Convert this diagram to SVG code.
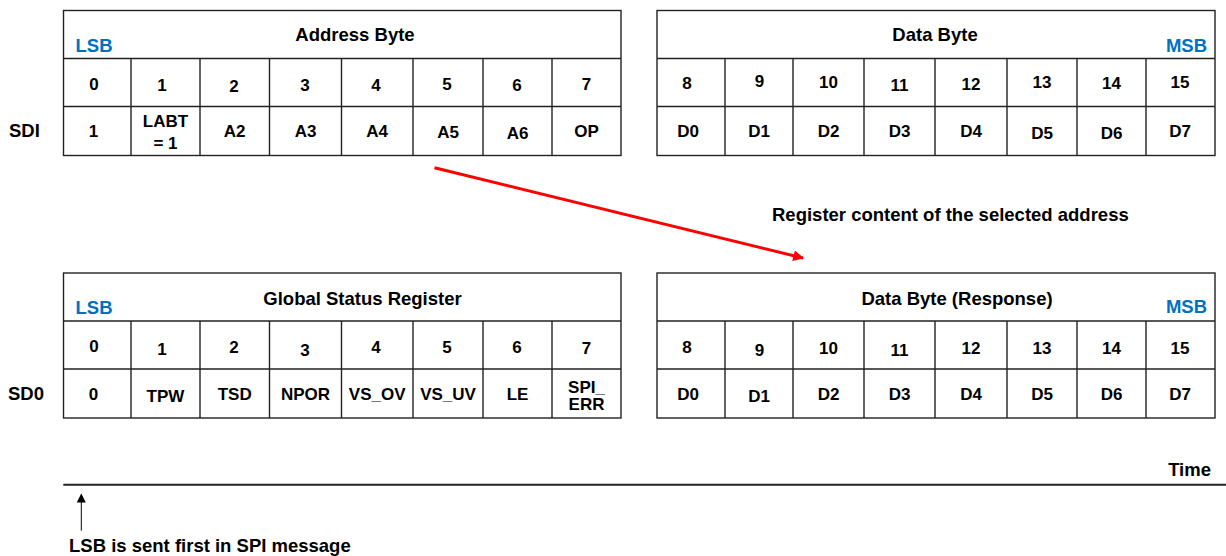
<svg xmlns="http://www.w3.org/2000/svg" width="1226" height="556" viewBox="0 0 1226 556">
<defs>
<style>
text{font-family:"Liberation Sans",Arial,sans-serif;font-weight:bold;fill:#000}
.c{font-size:17px;text-anchor:middle}
.h{font-size:18.5px;text-anchor:middle}
.lbl{font-size:18.5px}
.blue{fill:#0070C0;font-size:18.5px}
.tb{fill:none;stroke:#222;stroke-width:1.4}
</style>
<marker id="ra" viewBox="0 0 10 10" refX="9" refY="5" markerWidth="4.5" markerHeight="3.6" orient="auto" markerUnits="strokeWidth"><path d="M0,0 L10,5 L0,10 z" fill="#FF0000"/></marker>
<marker id="ka" viewBox="0 0 10 10" refX="9" refY="5" markerWidth="10" markerHeight="9" orient="auto" markerUnits="strokeWidth"><path d="M0,0 L10,5 L0,10 z" fill="#000"/></marker>
</defs>
<rect width="1226" height="556" fill="#fff"/>

<g id="label-sdi"><text class="lbl" x="9" y="137.3">SDI</text></g>
<g id="label-sd0"><text class="lbl" x="8" y="400">SD0</text></g>

<g id="address-byte">
<rect class="tb" x="63.5" y="10.5" width="557.5" height="145"/>
<path class="tb" d="M63.5 58.5H621M63.5 106.5H621M131 58.5V155.5M200 58.5V155.5M269.5 58.5V155.5M341.5 58.5V155.5M413 58.5V155.5M483 58.5V155.5M552 58.5V155.5"/>
<text class="h" x="355" y="41">Address Byte</text>
<text class="blue" x="75.5" y="51.7">LSB</text>
<text class="c" x="94" y="89.5">0</text>
<text class="c" x="162" y="90.7">1</text>
<text class="c" x="234" y="91.7">2</text>
<text class="c" x="305" y="90.7">3</text>
<text class="c" x="376" y="90.5">4</text>
<text class="c" x="447" y="90">5</text>
<text class="c" x="517" y="90.5">6</text>
<text class="c" x="586.5" y="90">7</text>
<text class="c" x="93.5" y="137.3">1</text>
<text class="c" x="165.5" y="126.7">LABT</text>
<text class="c" x="165.5" y="149">= 1</text>
<text class="c" x="234.7" y="137.3">A2</text>
<text class="c" x="305.5" y="137.3">A3</text>
<text class="c" x="377.2" y="137.3">A4</text>
<text class="c" x="448" y="138.3">A5</text>
<text class="c" x="517.5" y="139.3">A6</text>
<text class="c" x="586.5" y="136.7">OP</text>
</g>

<g id="data-byte">
<rect class="tb" x="657" y="10.5" width="558" height="145"/>
<path class="tb" d="M657 58.5H1215M657 106.5H1215M725 58.5V155.5M793 58.5V155.5M864 58.5V155.5M935 58.5V155.5M1007 58.5V155.5M1077 58.5V155.5M1146 58.5V155.5"/>
<text class="h" x="935" y="41">Data Byte</text>
<text class="blue" x="1207" y="51.7" text-anchor="end">MSB</text>
<text class="c" x="687" y="89.3">8</text>
<text class="c" x="759.5" y="86.7">9</text>
<text class="c" x="828.5" y="88.3">10</text>
<text class="c" x="899.5" y="90.7">11</text>
<text class="c" x="971" y="90">12</text>
<text class="c" x="1042" y="88.3">13</text>
<text class="c" x="1111.5" y="89.3">14</text>
<text class="c" x="1180" y="88.3">15</text>
<text class="c" x="688" y="136.7">D0</text>
<text class="c" x="759" y="136.7">D1</text>
<text class="c" x="828.5" y="136.7">D2</text>
<text class="c" x="899.5" y="136.7">D3</text>
<text class="c" x="971" y="136.7">D4</text>
<text class="c" x="1042" y="139.3">D5</text>
<text class="c" x="1111.5" y="139.3">D6</text>
<text class="c" x="1180" y="136.7">D7</text>
</g>

<g id="register-note"><text class="lbl" x="772" y="221">Register content of the selected address</text></g>

<g id="global-status-register">
<rect class="tb" x="63.5" y="273" width="557.5" height="145"/>
<path class="tb" d="M63.5 321H621M63.5 369H621M131 321V418M200 321V418M269.5 321V418M341.5 321V418M413 321V418M483 321V418M552 321V418"/>
<text class="h" x="362.5" y="305">Global Status Register</text>
<text class="blue" x="75.5" y="314.3">LSB</text>
<text class="c" x="94" y="351.7">0</text>
<text class="c" x="162" y="355">1</text>
<text class="c" x="234" y="353.3">2</text>
<text class="c" x="305" y="356">3</text>
<text class="c" x="376" y="353.3">4</text>
<text class="c" x="447" y="353.3">5</text>
<text class="c" x="517" y="353.3">6</text>
<text class="c" x="586.5" y="354">7</text>
<text class="c" x="93.5" y="400">0</text>
<text class="c" x="165.5" y="401.7">TPW</text>
<text class="c" x="234.7" y="400">TSD</text>
<text class="c" x="305.5" y="400">NPOR</text>
<text class="c" x="377.2" y="400">VS_OV</text>
<text class="c" x="448" y="400">VS_UV</text>
<text class="c" x="517.5" y="400">LE</text>
<text class="c" x="586.5" y="393">SPI_</text>
<text class="c" x="586.5" y="410">ERR</text>
</g>

<g id="data-byte-response">
<rect class="tb" x="657" y="273" width="558" height="145"/>
<path class="tb" d="M657 321H1215M657 369H1215M725 321V418M793 321V418M864 321V418M935 321V418M1007 321V418M1077 321V418M1146 321V418"/>
<text class="h" x="957" y="305">Data Byte (Response)</text>
<text class="blue" x="1207" y="313.3" text-anchor="end">MSB</text>
<text class="c" x="687" y="353.3">8</text>
<text class="c" x="759.5" y="356">9</text>
<text class="c" x="828.5" y="354">10</text>
<text class="c" x="899.5" y="356">11</text>
<text class="c" x="971" y="354">12</text>
<text class="c" x="1042" y="354">13</text>
<text class="c" x="1111.5" y="354">14</text>
<text class="c" x="1180" y="354">15</text>
<text class="c" x="688" y="400">D0</text>
<text class="c" x="759" y="401.7">D1</text>
<text class="c" x="828.5" y="400">D2</text>
<text class="c" x="899.5" y="400">D3</text>
<text class="c" x="971" y="400">D4</text>
<text class="c" x="1042" y="400">D5</text>
<text class="c" x="1111.5" y="400">D6</text>
<text class="c" x="1180" y="400">D7</text>
</g>

<g id="timeline">
<line x1="63.3" y1="484.7" x2="1226" y2="484.7" stroke="#222" stroke-width="2"/>
<text class="lbl" x="1211" y="476" text-anchor="end">Time</text>
<text class="lbl" x="69" y="552">LSB is sent first in SPI message</text>
</g>

<g id="connectors">
<line x1="434.5" y1="167.7" x2="803" y2="258" stroke="#FF0000" stroke-width="3" marker-end="url(#ra)"/>
<line x1="81.3" y1="530.7" x2="81.3" y2="494.3" stroke="#000" stroke-width="1" marker-end="url(#ka)"/>
</g>
</svg>
